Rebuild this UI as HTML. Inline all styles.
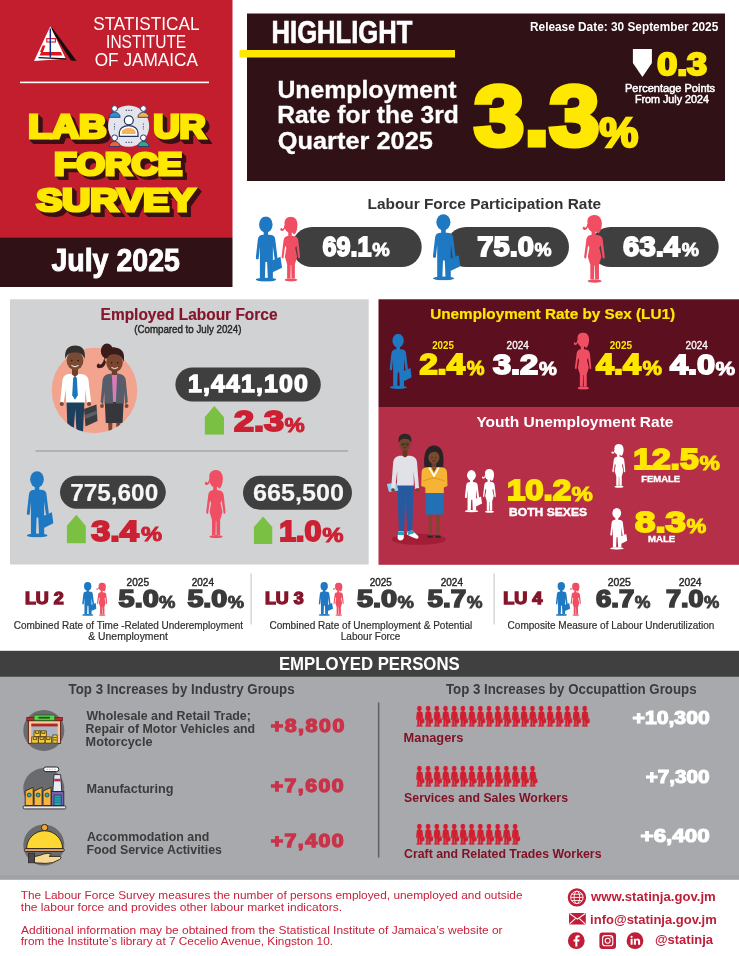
<!DOCTYPE html>
<html lang="en"><head><meta charset="utf-8"><title>Labour Force Survey July 2025</title>
<style>
html,body{margin:0;padding:0;background:#fff}
svg{display:block;font-family:"Liberation Sans",sans-serif}
text{white-space:pre}
</style></head><body>
<svg width="739" height="956" viewBox="0 0 739 956">
<defs>
<symbol id="male" viewBox="0 0 334 790" preserveAspectRatio="none">
<ellipse cx="130" cy="99" rx="84" ry="97"/>
<path d="M103,170 H158 V222 C218,222 243,238 247,278 L274,495 C276,516 266,523 254,520 L240,517 L218,365 V748 H155 L146,552 H125 L118,748 H56 V365 L40,517 L28,520 C16,523 3,516 6,495 L31,278 C36,238 62,222 103,222 Z"/>
<path d="M188,542 L312,490 L332,620 L214,676 Z"/>
<ellipse cx="132" cy="764" rx="128" ry="23"/>
</symbol>
<symbol id="female" viewBox="0 4 255 782" preserveAspectRatio="none">
<ellipse cx="126" cy="112" rx="66" ry="88"/>
<path d="M62,95 C50,30 100,2 140,4 C202,6 226,62 219,122 C215,168 204,200 180,218 L150,190 L118,72 Z"/>
<path d="M74,118 C64,160 42,184 20,174 C-2,164 6,134 30,140 C24,162 54,150 60,104 Z"/>
<path d="M106,185 H150 V232 C197,236 224,248 230,288 L252,482 C254,504 238,510 230,500 L206,352 L192,380 L216,484 L188,575 L188,745 H146 L143,585 H137 L134,745 H92 L92,575 L64,484 L82,380 L68,352 L46,500 C40,510 22,504 24,482 L48,288 C54,248 78,236 106,232 Z"/>
<ellipse cx="140" cy="764" rx="78" ry="19"/>
</symbol>
<symbol id="uparrow" viewBox="0 0 20 28" preserveAspectRatio="none">
<path d="M10,0 L20,11 V28 H0 V11 Z"/>
</symbol>
</defs>
<rect x="0" y="0" width="232.5" height="237.2" fill="#c21e2e"/>
<rect x="0" y="237.2" width="232.5" height="49.8" fill="#2f1116"/>
<rect x="247" y="13.5" width="478" height="167.5" fill="#2f1116"/>
<rect x="239.5" y="50" width="215.5" height="7.5" fill="#ffe800"/>
<rect x="10" y="299.3" width="358.7" height="265.2" fill="#d1d2d4"/>
<rect x="378.5" y="299.3" width="360.5" height="107.7" fill="#5c0f1e"/>
<rect x="378.5" y="407" width="360.5" height="157.8" fill="#b52f49"/>
<rect x="0" y="650.8" width="739" height="26.1" fill="#404040"/>
<rect x="0" y="676.9" width="739" height="202.7" fill="#a8a9ad"/>
<rect x="0" y="875" width="739" height="4.6" fill="#a0a2a5"/>
<path d="M51.6,27 L76.6,60.9 L71,60.4 L52.2,31.5 Z" fill="#1a0a0c"/>
<path d="M50.3,26.2 L65.8,58.8 L34,60.9 Z" fill="#fff"/>
<path d="M41.2,52 H60.8 L62.4,55.6 H39.6 Z" fill="#e3131e"/>
<path d="M42.6,45.5 L40,52 H43 L45.4,45.5 Z" fill="#e3131e"/>
<rect x="46.8" y="38.6" width="8.6" height="3.4" fill="none" stroke="#e3131e" stroke-width="1.1"/>
<path d="M38.5,57.6 L66,58.9" stroke="#1a0a0c" stroke-width="1.3"/>
<path d="M50.3,28.5 V57.5" stroke="#1c2a8c" stroke-width="1.5"/>
<text x="93.2" y="30.3" font-size="17.5" font-weight="400" fill="#fff" textLength="106.3" lengthAdjust="spacingAndGlyphs">STATISTICAL</text>
<text x="106.1" y="48.3" font-size="17.5" font-weight="400" fill="#fff" textLength="80.1" lengthAdjust="spacingAndGlyphs">INSTITUTE</text>
<text x="94.7" y="66.3" font-size="17.5" font-weight="400" fill="#fff" textLength="103.3" lengthAdjust="spacingAndGlyphs">OF JAMAICA</text>
<rect x="20" y="81.6" width="189" height="1.6" fill="#fff"/>
<text x="29.6" y="139.1" font-size="32.27" font-weight="700" fill="#3a1015" textLength="77.9" lengthAdjust="spacingAndGlyphs" stroke="#3a1015" stroke-width="3.8000000000000003" stroke-linejoin="miter" stroke-miterlimit="2.2" paint-order="stroke" stroke-miterlimit="3">LAB</text>
<text x="30.6" y="140.1" font-size="32.27" font-weight="700" fill="#3a1015" textLength="77.9" lengthAdjust="spacingAndGlyphs" stroke="#3a1015" stroke-width="3.8000000000000003" stroke-linejoin="miter" stroke-miterlimit="2.2" paint-order="stroke" stroke-miterlimit="3">LAB</text>
<text x="31.6" y="141.1" font-size="32.27" font-weight="700" fill="#3a1015" textLength="77.9" lengthAdjust="spacingAndGlyphs" stroke="#3a1015" stroke-width="3.8000000000000003" stroke-linejoin="miter" stroke-miterlimit="2.2" paint-order="stroke" stroke-miterlimit="3">LAB</text>
<text x="32.6" y="142.1" font-size="32.27" font-weight="700" fill="#3a1015" textLength="77.9" lengthAdjust="spacingAndGlyphs" stroke="#3a1015" stroke-width="3.8000000000000003" stroke-linejoin="miter" stroke-miterlimit="2.2" paint-order="stroke" stroke-miterlimit="3">LAB</text>
<text x="28.2" y="138.4" font-size="33.14" font-weight="700" fill="#ffe800" textLength="78.5" lengthAdjust="spacingAndGlyphs" stroke="#ffe800" stroke-width="3.2" stroke-linejoin="miter" stroke-miterlimit="2.2" paint-order="stroke">LAB</text>
<text x="154.7" y="139.1" font-size="32.27" font-weight="700" fill="#3a1015" textLength="51.8" lengthAdjust="spacingAndGlyphs" stroke="#3a1015" stroke-width="3.8000000000000003" stroke-linejoin="miter" stroke-miterlimit="2.2" paint-order="stroke" stroke-miterlimit="3">UR</text>
<text x="155.7" y="140.1" font-size="32.27" font-weight="700" fill="#3a1015" textLength="51.8" lengthAdjust="spacingAndGlyphs" stroke="#3a1015" stroke-width="3.8000000000000003" stroke-linejoin="miter" stroke-miterlimit="2.2" paint-order="stroke" stroke-miterlimit="3">UR</text>
<text x="156.7" y="141.1" font-size="32.27" font-weight="700" fill="#3a1015" textLength="51.8" lengthAdjust="spacingAndGlyphs" stroke="#3a1015" stroke-width="3.8000000000000003" stroke-linejoin="miter" stroke-miterlimit="2.2" paint-order="stroke" stroke-miterlimit="3">UR</text>
<text x="157.7" y="142.1" font-size="32.27" font-weight="700" fill="#3a1015" textLength="51.8" lengthAdjust="spacingAndGlyphs" stroke="#3a1015" stroke-width="3.8000000000000003" stroke-linejoin="miter" stroke-miterlimit="2.2" paint-order="stroke" stroke-miterlimit="3">UR</text>
<text x="153.4" y="138.4" font-size="33.14" font-weight="700" fill="#ffe800" textLength="52.4" lengthAdjust="spacingAndGlyphs" stroke="#ffe800" stroke-width="3.2" stroke-linejoin="miter" stroke-miterlimit="2.2" paint-order="stroke">UR</text>
<text x="55.5" y="175.4" font-size="30.09" font-weight="700" fill="#3a1015" textLength="127.5" lengthAdjust="spacingAndGlyphs" stroke="#3a1015" stroke-width="3.8000000000000003" stroke-linejoin="miter" stroke-miterlimit="2.2" paint-order="stroke" stroke-miterlimit="3">FORCE</text>
<text x="56.5" y="176.4" font-size="30.09" font-weight="700" fill="#3a1015" textLength="127.5" lengthAdjust="spacingAndGlyphs" stroke="#3a1015" stroke-width="3.8000000000000003" stroke-linejoin="miter" stroke-miterlimit="2.2" paint-order="stroke" stroke-miterlimit="3">FORCE</text>
<text x="57.5" y="177.4" font-size="30.09" font-weight="700" fill="#3a1015" textLength="127.5" lengthAdjust="spacingAndGlyphs" stroke="#3a1015" stroke-width="3.8000000000000003" stroke-linejoin="miter" stroke-miterlimit="2.2" paint-order="stroke" stroke-miterlimit="3">FORCE</text>
<text x="58.5" y="178.4" font-size="30.09" font-weight="700" fill="#3a1015" textLength="127.5" lengthAdjust="spacingAndGlyphs" stroke="#3a1015" stroke-width="3.8000000000000003" stroke-linejoin="miter" stroke-miterlimit="2.2" paint-order="stroke" stroke-miterlimit="3">FORCE</text>
<text x="54.2" y="174.7" font-size="30.96" font-weight="700" fill="#ffe800" textLength="128.1" lengthAdjust="spacingAndGlyphs" stroke="#ffe800" stroke-width="3.2" stroke-linejoin="miter" stroke-miterlimit="2.2" paint-order="stroke">FORCE</text>
<text x="37.8" y="211.5" font-size="31.4" font-weight="700" fill="#3a1015" textLength="157.9" lengthAdjust="spacingAndGlyphs" stroke="#3a1015" stroke-width="3.8000000000000003" stroke-linejoin="miter" stroke-miterlimit="2.2" paint-order="stroke" stroke-miterlimit="3">SURVEY</text>
<text x="38.8" y="212.5" font-size="31.4" font-weight="700" fill="#3a1015" textLength="157.9" lengthAdjust="spacingAndGlyphs" stroke="#3a1015" stroke-width="3.8000000000000003" stroke-linejoin="miter" stroke-miterlimit="2.2" paint-order="stroke" stroke-miterlimit="3">SURVEY</text>
<text x="39.8" y="213.5" font-size="31.4" font-weight="700" fill="#3a1015" textLength="157.9" lengthAdjust="spacingAndGlyphs" stroke="#3a1015" stroke-width="3.8000000000000003" stroke-linejoin="miter" stroke-miterlimit="2.2" paint-order="stroke" stroke-miterlimit="3">SURVEY</text>
<text x="40.8" y="214.5" font-size="31.4" font-weight="700" fill="#3a1015" textLength="157.9" lengthAdjust="spacingAndGlyphs" stroke="#3a1015" stroke-width="3.8000000000000003" stroke-linejoin="miter" stroke-miterlimit="2.2" paint-order="stroke" stroke-miterlimit="3">SURVEY</text>
<text x="36.5" y="210.8" font-size="32.27" font-weight="700" fill="#ffe800" textLength="158.5" lengthAdjust="spacingAndGlyphs" stroke="#ffe800" stroke-width="3.2" stroke-linejoin="miter" stroke-miterlimit="2.2" paint-order="stroke">SURVEY</text>
<g>
<circle cx="128.6" cy="126.1" r="20.6" fill="#e4e5ec"/>
<path d="M109.1,117.3 a5.52,5.11 0 0 1 11.04,0 Z" fill="#2f8fd0" stroke="#2a3a6a" stroke-width="0.9"/>
<circle cx="114.6" cy="108.5" r="2.9" fill="#fff" stroke="#2a3a6a" stroke-width="1"/>
<path d="M137.9,117.3 a5.52,5.11 0 0 1 11.04,0 Z" fill="#f4b04c" stroke="#2a3a6a" stroke-width="0.9"/>
<circle cx="143.4" cy="108.5" r="2.9" fill="#fff" stroke="#2a3a6a" stroke-width="1"/>
<path d="M109.1,146.5 a5.52,5.11 0 0 1 11.04,0 Z" fill="#e8603c" stroke="#2a3a6a" stroke-width="0.9"/>
<circle cx="114.6" cy="137.8" r="2.9" fill="#fff" stroke="#2a3a6a" stroke-width="1"/>
<path d="M137.9,146.5 a5.52,5.11 0 0 1 11.04,0 Z" fill="#35a58a" stroke="#2a3a6a" stroke-width="0.9"/>
<circle cx="143.4" cy="137.8" r="2.9" fill="#fff" stroke="#2a3a6a" stroke-width="1"/>
<path d="M119.3,136.4 V132.5 a9.34,7.14 0 0 1 18.67,0 V136.4 Z" fill="#fff" stroke="#24335f" stroke-width="1.2"/>
<path d="M121.8,134.1 V132.1 a6.90,4.06 0 0 1 13.80,0 V134.1 Z" fill="#f5b35a"/>
<circle cx="128.8" cy="120.3" r="4.5" fill="#fff" stroke="#24335f" stroke-width="1.2"/>
<path d="M125.6,110.4 h6.6 M125.6,142.4 h6.6 M114.5,123.4 v6.2 M143.4,123.4 v6.2" stroke="#5a6480" stroke-width="1.1" stroke-dasharray="1.4 1.2"/>
</g>
<text x="51.4" y="271.0" font-size="31.59" font-weight="700" fill="#fff" textLength="128.5" lengthAdjust="spacingAndGlyphs" stroke="#fff" stroke-width="1.0" stroke-linejoin="miter" stroke-miterlimit="2.2" paint-order="stroke">July 2025</text>
<text x="271.6" y="42.9" font-size="31.07" font-weight="700" fill="#fff" textLength="140.7" lengthAdjust="spacingAndGlyphs" stroke="#fff" stroke-width="0.7" stroke-linejoin="miter" stroke-miterlimit="2.2" paint-order="stroke">HIGHLIGHT</text>
<text x="530.0" y="31.0" font-size="13.6" font-weight="700" fill="#fff" textLength="188.3" lengthAdjust="spacingAndGlyphs">Release Date: 30 September 2025</text>
<text x="277.4" y="98.0" font-size="23.5" font-weight="700" fill="#fff" textLength="179.0" lengthAdjust="spacingAndGlyphs" stroke="#fff" stroke-width="0.3" stroke-linejoin="miter" stroke-miterlimit="2.2" paint-order="stroke">Unemployment</text>
<text x="277.2" y="122.7" font-size="23.5" font-weight="700" fill="#fff" textLength="181.6" lengthAdjust="spacingAndGlyphs" stroke="#fff" stroke-width="0.3" stroke-linejoin="miter" stroke-miterlimit="2.2" paint-order="stroke">Rate for the 3rd</text>
<text x="277.8" y="148.5" font-size="23.5" font-weight="700" fill="#fff" textLength="155.1" lengthAdjust="spacingAndGlyphs" stroke="#fff" stroke-width="0.3" stroke-linejoin="miter" stroke-miterlimit="2.2" paint-order="stroke">Quarter 2025</text>
<text x="473.9" y="144.9" font-size="85.56" font-weight="700" fill="#ffe800" textLength="125.6" lengthAdjust="spacingAndGlyphs" stroke="#ffe800" stroke-width="5" stroke-linejoin="miter" stroke-miterlimit="2.2" paint-order="stroke">3.3</text>
<text x="599.3" y="146.9" font-size="42.21" font-weight="700" fill="#ffe800" textLength="39.1" lengthAdjust="spacingAndGlyphs" stroke="#ffe800" stroke-width="2.4" stroke-linejoin="miter" stroke-miterlimit="2.2" paint-order="stroke">%</text>
<path d="M632.9,48.9 H651.9 V63 L642.4,76.9 L632.9,63 Z" fill="#fff"/>
<text x="657.2" y="74.9" font-size="31.71" font-weight="700" fill="#ffe800" textLength="49.9" lengthAdjust="spacingAndGlyphs" stroke="#ffe800" stroke-width="2.4" stroke-linejoin="miter" stroke-miterlimit="2.2" paint-order="stroke">0.3</text>
<text x="625.0" y="91.8" font-size="10.6" font-weight="400" fill="#fff" textLength="90.1" lengthAdjust="spacingAndGlyphs" stroke="#fff" stroke-width="0.5" stroke-linejoin="miter" stroke-miterlimit="2.2" paint-order="stroke">Percentage Points</text>
<text x="634.9" y="102.5" font-size="10.6" font-weight="400" fill="#fff" textLength="74.0" lengthAdjust="spacingAndGlyphs" stroke="#fff" stroke-width="0.5" stroke-linejoin="miter" stroke-miterlimit="2.2" paint-order="stroke">From July 2024</text>
<text x="367.5" y="208.7" font-size="15.2" font-weight="700" fill="#333" textLength="233.6" lengthAdjust="spacingAndGlyphs">Labour Force Participation Rate</text>
<rect x="292" y="227" width="129.7" height="40" rx="20" fill="#3f3f3f"/>
<rect x="446" y="227" width="123" height="40" rx="20" fill="#3f3f3f"/>
<rect x="590.5" y="227" width="128.2" height="40" rx="20" fill="#3f3f3f"/>
<use href="#male" x="255.4" y="216.3" width="26.8" height="65.4" fill="#1e78c2"/>
<use href="#female" x="279.7" y="216.7" width="20.6" height="65.1" fill="#f04e63"/>
<use href="#male" x="432.5" y="214.0" width="28.0" height="66.5" fill="#1e78c2"/>
<use href="#female" x="582.0" y="215.0" width="23.0" height="68.0" fill="#f04e63"/>
<text x="322.5" y="255.6" font-size="27.82" font-weight="700" fill="#fff" textLength="48.9" lengthAdjust="spacingAndGlyphs" stroke="#fff" stroke-width="1.8" stroke-linejoin="miter" stroke-miterlimit="2.2" paint-order="stroke">69.1</text>
<text x="372.3" y="256.3" font-size="18.36" font-weight="700" fill="#fff" textLength="17.5" lengthAdjust="spacingAndGlyphs" stroke="#fff" stroke-width="0.81" stroke-linejoin="miter" stroke-miterlimit="2.2" paint-order="stroke">%</text>
<text x="477.3" y="255.6" font-size="27.82" font-weight="700" fill="#fff" textLength="56.6" lengthAdjust="spacingAndGlyphs" stroke="#fff" stroke-width="1.8" stroke-linejoin="miter" stroke-miterlimit="2.2" paint-order="stroke">75.0</text>
<text x="534.4" y="256.3" font-size="18.36" font-weight="700" fill="#fff" textLength="17.1" lengthAdjust="spacingAndGlyphs" stroke="#fff" stroke-width="0.81" stroke-linejoin="miter" stroke-miterlimit="2.2" paint-order="stroke">%</text>
<text x="623.1" y="255.6" font-size="27.77" font-weight="700" fill="#fff" textLength="57.0" lengthAdjust="spacingAndGlyphs" stroke="#fff" stroke-width="1.8" stroke-linejoin="miter" stroke-miterlimit="2.2" paint-order="stroke">63.4</text>
<text x="681.7" y="256.3" font-size="18.33" font-weight="700" fill="#fff" textLength="17.2" lengthAdjust="spacingAndGlyphs" stroke="#fff" stroke-width="0.81" stroke-linejoin="miter" stroke-miterlimit="2.2" paint-order="stroke">%</text>
<text x="100.6" y="319.8" font-size="16.8" font-weight="700" fill="#84152a" textLength="176.9" lengthAdjust="spacingAndGlyphs" stroke="#84152a" stroke-width="0.2" stroke-linejoin="miter" stroke-miterlimit="2.2" paint-order="stroke">Employed Labour Force</text>
<text x="134.2" y="333.3" font-size="10.6" font-weight="400" fill="#2a2a2a" textLength="107.2" lengthAdjust="spacingAndGlyphs" stroke="#2a2a2a" stroke-width="0.45" stroke-linejoin="miter" stroke-miterlimit="2.2" paint-order="stroke">(Compared to July 2024)</text>
<clipPath id="cc"><path d="M40,330 H150 V390.5 H137.3 A42.8,42.8 0 0 1 51.7,390.5 H40 Z"/></clipPath>
<circle cx="94.5" cy="390.5" r="42.8" fill="#f2a48f"/>
<g clip-path="url(#cc)">
<path d="M66.5,400 H84.5 L83,432 H76.5 L75.3,409 L73.5,432 H67.5 Z" fill="#1d3f5e"/>
<path d="M84,409 L96.5,404.5 L97.5,421 L85.5,426.5 Z" fill="#3a3d42"/>
<path d="M85,415 L97,410.5 L97.3,414 L85.2,419 Z" fill="#5c6066"/>
<path d="M60.2,401.5 L62.5,380 Q63.5,374.5 69,374 H81 Q87.5,374.5 88.5,380 L91,401.5 L87,403 L85,389 L85,402.5 H66 L66,389 L63.5,403 Z" fill="#fff"/>
<circle cx="61.8" cy="404" r="2.1" fill="#7c4a32"/><circle cx="89" cy="404" r="2.1" fill="#7c4a32"/>
<path d="M72,367 h6 v7.5 l-3,2.5 l-3,-2.5 Z" fill="#6e4029"/>
<path d="M75,376.2 l1.8,1.6 l1,17.5 l-2.8,4.5 l-2.8,-4.5 l1,-17.5 Z" fill="#1a76bd"/>
<ellipse cx="75" cy="360.5" rx="8.4" ry="9.6" fill="#7c4a32"/>
<path d="M65.3,359 C64,349 69,345.5 75,345.5 C82,345.5 86,349.5 84.7,359 C83,354 80,352.5 75,352.5 C70,352.5 67,354 65.3,359 Z" fill="#33312f"/>
<circle cx="71.8" cy="360.6" r="0.8" fill="#1c1614"/><circle cx="78.2" cy="360.6" r="0.8" fill="#1c1614"/>
<path d="M71.5,365.5 q3.5,2.6 7,0" stroke="#fff" stroke-width="1" fill="none"/>
<path d="M108,420 h4.6 l-0.6,12 h-3.4 Z M116,420 h4.6 l-0.6,12 h-3.4 Z" fill="#7a4630"/>
<path d="M104.8,402 H123.6 L122.6,423 H105.8 Z" fill="#36363c"/>
<ellipse cx="107" cy="351" rx="6.2" ry="7.5" fill="#3a1d1a"/>
<path d="M100,368 C96,369 96,364 98.5,363.5 C100,366 103,364 104,359 L106,362 C105,366 103,368 100,368 Z" fill="#3a1d1a"/>
<ellipse cx="114.5" cy="362.5" rx="8.3" ry="9.5" fill="#7a4630"/>
<path d="M104.5,361 C103,350 109,346.5 115,347.5 C122,348 125.5,353 123.6,362 C122,356 118,353.5 112,354.5 C108,355 106,357 104.5,361 Z" fill="#3a1d1a"/>
<circle cx="111.6" cy="362.8" r="0.8" fill="#1c1614"/><circle cx="117.6" cy="362.8" r="0.8" fill="#1c1614"/>
<path d="M111.5,367.5 q3.2,2.3 6.4,0" stroke="#fff" stroke-width="0.9" fill="none"/>
<path d="M111.8,370 h5.4 v6 h-5.4 Z" fill="#6e3e2a"/>
<path d="M110.5,375 h8 l-1,27 h-6 Z" fill="#d77bb9"/>
<path d="M100.6,402 L102.6,380 Q103.5,375 108.5,374 L111.8,373.5 L113.2,403.5 H104.5 L104.3,392 L103.2,404.5 Z" fill="#585d6a"/>
<path d="M127.8,402 L125.8,380 Q125,375 120,374 L117.2,373.5 L115.8,403.5 H124 L124.2,392 L125.2,404.5 Z" fill="#585d6a"/>
<circle cx="102" cy="406" r="1.9" fill="#7a4630"/><circle cx="126.6" cy="406" r="1.9" fill="#7a4630"/>
</g>
<rect x="175.4" y="367.5" width="145.4" height="34" rx="17" fill="#3f3f3f"/>
<text transform="translate(188.10,391.71) scale(1.03,1)" font-size="24.15" font-weight="700" fill="#fff" letter-spacing="1.103" stroke="#fff" stroke-width="1.3" stroke-linejoin="miter" stroke-miterlimit="2.2" paint-order="stroke">1,441,100</text>
<use href="#uparrow" x="204.6" y="406.0" width="19.4" height="28.7" fill="#7ac143"/>
<text x="234.1" y="431.0" font-size="29.74" font-weight="700" fill="#cc2033" textLength="50.0" lengthAdjust="spacingAndGlyphs" stroke="#cc2033" stroke-width="2.0" stroke-linejoin="miter" stroke-miterlimit="2.2" paint-order="stroke">2.3</text>
<text x="284.6" y="431.7" font-size="20.22" font-weight="700" fill="#cc2033" textLength="20.2" lengthAdjust="spacingAndGlyphs" stroke="#cc2033" stroke-width="0.9" stroke-linejoin="miter" stroke-miterlimit="2.2" paint-order="stroke">%</text>
<rect x="35.5" y="450.2" width="312.5" height="1.6" fill="#a9abae"/>
<use href="#male" x="26.4" y="471.0" width="27.2" height="66.6" fill="#1e78c2"/>
<rect x="60" y="475.7" width="105.8" height="33" rx="16.5" fill="#3f3f3f"/>
<text x="70.2" y="500.6" font-size="23.94" font-weight="700" fill="#f6f6f6" textLength="88.0" lengthAdjust="spacingAndGlyphs" stroke="#f6f6f6" stroke-width="0.15" stroke-linejoin="miter" stroke-miterlimit="2.2" paint-order="stroke">775,600</text>
<use href="#uparrow" x="66.7" y="514.7" width="19.2" height="28.7" fill="#7ac143"/>
<text x="91.3" y="540.7" font-size="29.6" font-weight="700" fill="#cc2033" textLength="47.5" lengthAdjust="spacingAndGlyphs" stroke="#cc2033" stroke-width="2.0" stroke-linejoin="miter" stroke-miterlimit="2.2" paint-order="stroke">3.4</text>
<text x="140.9" y="541.4" font-size="20.13" font-weight="700" fill="#cc2033" textLength="21.1" lengthAdjust="spacingAndGlyphs" stroke="#cc2033" stroke-width="0.9" stroke-linejoin="miter" stroke-miterlimit="2.2" paint-order="stroke">%</text>
<use href="#female" x="204.2" y="470.0" width="21.6" height="68.5" fill="#f04e63"/>
<rect x="243" y="475.7" width="109" height="34" rx="17" fill="#3f3f3f"/>
<text x="252.9" y="500.6" font-size="23.94" font-weight="700" fill="#f6f6f6" textLength="91.0" lengthAdjust="spacingAndGlyphs" stroke="#f6f6f6" stroke-width="0.15" stroke-linejoin="miter" stroke-miterlimit="2.2" paint-order="stroke">665,500</text>
<use href="#uparrow" x="253.7" y="516.5" width="18.8" height="27.5" fill="#7ac143"/>
<text x="279.2" y="540.8" font-size="29.52" font-weight="700" fill="#cc2033" textLength="42.3" lengthAdjust="spacingAndGlyphs" stroke="#cc2033" stroke-width="2.0" stroke-linejoin="miter" stroke-miterlimit="2.2" paint-order="stroke">1.0</text>
<text x="322.2" y="541.5" font-size="20.07" font-weight="700" fill="#cc2033" textLength="21.3" lengthAdjust="spacingAndGlyphs" stroke="#cc2033" stroke-width="0.9" stroke-linejoin="miter" stroke-miterlimit="2.2" paint-order="stroke">%</text>
<text x="430.2" y="319.0" font-size="15.2" font-weight="700" fill="#ffe800" textLength="244.9" lengthAdjust="spacingAndGlyphs" stroke="#ffe800" stroke-width="0.2" stroke-linejoin="miter" stroke-miterlimit="2.2" paint-order="stroke">Unemployment Rate by Sex (LU1)</text>
<use href="#male" x="389.3" y="333.7" width="22.6" height="55.5" fill="#1e78c2"/>
<use href="#female" x="573.2" y="332.4" width="18.4" height="57.4" fill="#f04e63"/>
<text x="432.2" y="349.0" font-size="10" font-weight="700" fill="#ffe800" textLength="21.7" lengthAdjust="spacingAndGlyphs">2025</text>
<text x="506.6" y="349.0" font-size="10" font-weight="400" fill="#fff" textLength="22.2" lengthAdjust="spacingAndGlyphs" stroke="#fff" stroke-width="0.3" stroke-linejoin="miter" stroke-miterlimit="2.2" paint-order="stroke">2024</text>
<text x="609.7" y="349.0" font-size="10" font-weight="700" fill="#ffe800" textLength="22.4" lengthAdjust="spacingAndGlyphs">2025</text>
<text x="685.6" y="349.0" font-size="10" font-weight="400" fill="#fff" textLength="22.2" lengthAdjust="spacingAndGlyphs" stroke="#fff" stroke-width="0.3" stroke-linejoin="miter" stroke-miterlimit="2.2" paint-order="stroke">2024</text>
<text x="419.4" y="374.3" font-size="28.64" font-weight="700" fill="#ffe800" textLength="45.5" lengthAdjust="spacingAndGlyphs" stroke="#ffe800" stroke-width="1.9000000000000001" stroke-linejoin="miter" stroke-miterlimit="2.2" paint-order="stroke">2.4</text>
<text x="466.7" y="374.7" font-size="19.48" font-weight="700" fill="#ffe800" textLength="17.8" lengthAdjust="spacingAndGlyphs" stroke="#ffe800" stroke-width="0.8550000000000001" stroke-linejoin="miter" stroke-miterlimit="2.2" paint-order="stroke">%</text>
<text x="492.9" y="374.0" font-size="28.19" font-weight="700" fill="#fff" textLength="45.3" lengthAdjust="spacingAndGlyphs" stroke="#fff" stroke-width="1.9000000000000001" stroke-linejoin="miter" stroke-miterlimit="2.2" paint-order="stroke">3.2</text>
<text x="539.1" y="374.7" font-size="19.17" font-weight="700" fill="#fff" textLength="17.9" lengthAdjust="spacingAndGlyphs" stroke="#fff" stroke-width="0.8550000000000001" stroke-linejoin="miter" stroke-miterlimit="2.2" paint-order="stroke">%</text>
<text x="596.1" y="374.3" font-size="29.07" font-weight="700" fill="#ffe800" textLength="44.7" lengthAdjust="spacingAndGlyphs" stroke="#ffe800" stroke-width="1.9000000000000001" stroke-linejoin="miter" stroke-miterlimit="2.2" paint-order="stroke">4.4</text>
<text x="642.5" y="374.7" font-size="19.77" font-weight="700" fill="#ffe800" textLength="19.5" lengthAdjust="spacingAndGlyphs" stroke="#ffe800" stroke-width="0.8550000000000001" stroke-linejoin="miter" stroke-miterlimit="2.2" paint-order="stroke">%</text>
<text x="670.0" y="374.1" font-size="28.25" font-weight="700" fill="#fff" textLength="45.1" lengthAdjust="spacingAndGlyphs" stroke="#fff" stroke-width="1.9000000000000001" stroke-linejoin="miter" stroke-miterlimit="2.2" paint-order="stroke">4.0</text>
<text x="715.5" y="374.7" font-size="19.21" font-weight="700" fill="#fff" textLength="19.6" lengthAdjust="spacingAndGlyphs" stroke="#fff" stroke-width="0.8550000000000001" stroke-linejoin="miter" stroke-miterlimit="2.2" paint-order="stroke">%</text>
<text x="476.4" y="427.0" font-size="15.2" font-weight="700" fill="#fff" textLength="197.1" lengthAdjust="spacingAndGlyphs">Youth Unemployment Rate</text>
<ellipse cx="418.8" cy="539.3" rx="27.3" ry="5.5" fill="#a21d36"/>
<path d="M397.2,484 H413.6 L412.2,533 H407.2 L405.6,494 L404,533 H399 Z" fill="#27599f"/>
<path d="M398.2,531.5 h5.6 v5.5 q0,3 -3,3.4 q-3.4,0 -3.2,-3.4 Z" fill="#fff"/><path d="M398,532 h6 v3 h-6 Z" fill="#27a3c7"/>
<path d="M407,531.5 l5.2,-1 l6,5.6 q1,2.6 -1.6,2.6 q-4.4,-1 -9.6,-4.2 Z" fill="#fff"/><path d="M407,531.5 l5.2,-1 l2.6,2.6 l-6.5,2 Z" fill="#27a3c7"/>
<path d="M386.8,484 l9.4,-1.4 l2.2,8 l-9.4,1.5 Z" fill="#8ed0ee"/>
<path d="M391.2,488 L393.2,462 Q394,456.5 399.5,455.8 H410.5 Q416.2,456.5 417,462 L419,488 L415.2,489 L413.6,471 L413.8,485.5 H397 L397.2,471 L395,489 Z" fill="#e1e2e8"/>
<circle cx="393" cy="490" r="1.8" fill="#73452f"/><circle cx="417.2" cy="490" r="1.8" fill="#73452f"/>
<path d="M402.6,449.5 h4.8 v6.5 l-2.4,1.6 l-2.4,-1.6 Z" fill="#66391f"/>
<ellipse cx="405" cy="443.8" rx="5.6" ry="7" fill="#73452f"/>
<path d="M398.8,443 C397.6,436 401,433.8 405,433.8 C409.6,433.8 412.2,436.5 411.2,443 C410,439.6 408,438.8 405,438.8 C401.6,438.8 400,439.8 398.8,443 Z" fill="#2c2624"/>
<circle cx="403" cy="444.2" r="0.55" fill="#1c1614"/><circle cx="407" cy="444.2" r="0.55" fill="#1c1614"/>
<path d="M401.4,444.2 a1.6,1.4 0 1 0 3.2,0 a1.6,1.4 0 1 0 -3.2,0 M405.4,444.2 a1.6,1.4 0 1 0 3.2,0 a1.6,1.4 0 1 0 -3.2,0" fill="none" stroke="#2c2624" stroke-width="0.45"/>
<path d="M403.4,447.4 q1.6,1 3.2,0" stroke="#3a1d12" stroke-width="0.6" fill="none"/>
<path d="M428.6,512 h3.6 l-0.4,24 h-2.8 Z M436.2,512 h3.6 l-0.4,24 h-2.8 Z" fill="#7a4a30"/>
<path d="M427.6,535.5 h5.2 v2.2 h-5.2 Z M435.4,535.5 h5.2 v2.2 h-5.2 Z" fill="#2a2628"/>
<path d="M425.4,492 H443.8 L443.4,514.6 H425.8 Z" fill="#2371b5"/>
<path d="M424.6,468.5 C422.5,452 427.5,445.4 434,445.4 C441,445.4 445,452 443,468.5 Z" fill="#2a2224"/>
<path d="M431.6,462 h4.6 v7 h-4.6 Z" fill="#6e3e28"/>
<ellipse cx="433.9" cy="457.2" rx="5.5" ry="6.8" fill="#7a4a30"/>
<path d="M428,456.5 C427.5,450 431,448.2 434,448.2 C438,448.2 440.6,450.4 439.8,456.5 C438.4,452.4 436,451.4 433,452 C430.4,452.4 429,453.8 428,456.5 Z" fill="#2a2224"/>
<circle cx="432" cy="457.6" r="0.55" fill="#1c1614"/><circle cx="435.8" cy="457.6" r="0.55" fill="#1c1614"/>
<path d="M432.2,460.6 q1.7,1.2 3.4,0" stroke="#3a1d12" stroke-width="0.6" fill="none"/>
<path d="M421.2,486 L421.6,472 Q422,467.6 426.4,467.2 H441.8 Q446.4,467.6 447,472 L447.5,486 L443.8,487.5 V493 H425.4 V487.5 Z" fill="#f6b436"/>
<path d="M430,467.2 l4,7 l4,-7 l1.6,0.6 l-5.6,10 l-5.6,-10 Z" fill="#fff"/>
<path d="M431.4,467.2 l2.6,5 l2.6,-5 Z" fill="#7a4a30"/>
<path d="M423,481 l11,-3.4 l11,3.4" stroke="#e29c22" stroke-width="1.3" fill="none"/>
<use href="#male" x="464.6" y="470.0" width="17.6" height="42.6" fill="#fff"/>
<use href="#female" x="481.6" y="469.0" width="14.4" height="44.0" fill="#fff"/>
<text x="506.9" y="500.2" font-size="29.66" font-weight="700" fill="#ffe800" textLength="64.2" lengthAdjust="spacingAndGlyphs" stroke="#ffe800" stroke-width="2.0" stroke-linejoin="miter" stroke-miterlimit="2.2" paint-order="stroke">10.2</text>
<text x="571.6" y="500.9" font-size="19.87" font-weight="700" fill="#ffe800" textLength="21.3" lengthAdjust="spacingAndGlyphs" stroke="#ffe800" stroke-width="0.9" stroke-linejoin="miter" stroke-miterlimit="2.2" paint-order="stroke">%</text>
<text x="509.0" y="516.2" font-size="10.6" font-weight="700" fill="#fff" textLength="78.1" lengthAdjust="spacingAndGlyphs" stroke="#fff" stroke-width="0.4" stroke-linejoin="miter" stroke-miterlimit="2.2" paint-order="stroke">BOTH SEXES</text>
<use href="#female" x="611.0" y="444.0" width="14.6" height="44.0" fill="#fff"/>
<text x="633.3" y="469.1" font-size="29.38" font-weight="700" fill="#ffe800" textLength="65.3" lengthAdjust="spacingAndGlyphs" stroke="#ffe800" stroke-width="2.0" stroke-linejoin="miter" stroke-miterlimit="2.2" paint-order="stroke">12.5</text>
<text x="699.6" y="469.8" font-size="19.68" font-weight="700" fill="#ffe800" textLength="20.4" lengthAdjust="spacingAndGlyphs" stroke="#ffe800" stroke-width="0.9" stroke-linejoin="miter" stroke-miterlimit="2.2" paint-order="stroke">%</text>
<text x="641.2" y="482.0" font-size="9.4" font-weight="700" fill="#fff" textLength="39.0" lengthAdjust="spacingAndGlyphs" stroke="#fff" stroke-width="0.4" stroke-linejoin="miter" stroke-miterlimit="2.2" paint-order="stroke">FEMALE</text>
<use href="#male" x="610.0" y="508.0" width="17.4" height="41.8" fill="#fff"/>
<text x="635.1" y="531.9" font-size="29.32" font-weight="700" fill="#ffe800" textLength="50.8" lengthAdjust="spacingAndGlyphs" stroke="#ffe800" stroke-width="2.0" stroke-linejoin="miter" stroke-miterlimit="2.2" paint-order="stroke">8.3</text>
<text x="686.4" y="532.6" font-size="19.64" font-weight="700" fill="#ffe800" textLength="19.8" lengthAdjust="spacingAndGlyphs" stroke="#ffe800" stroke-width="0.9" stroke-linejoin="miter" stroke-miterlimit="2.2" paint-order="stroke">%</text>
<text x="648.1" y="542.0" font-size="9.4" font-weight="700" fill="#fff" textLength="27.1" lengthAdjust="spacingAndGlyphs" stroke="#fff" stroke-width="0.4" stroke-linejoin="miter" stroke-miterlimit="2.2" paint-order="stroke">MALE</text>
<text x="24.9" y="604.3" font-size="15.91" font-weight="700" fill="#84152a" textLength="38.8" lengthAdjust="spacingAndGlyphs" stroke="#84152a" stroke-width="1.3" stroke-linejoin="miter" stroke-miterlimit="2.2" paint-order="stroke">LU 2</text>
<use href="#male" x="82.0" y="582.0" width="14.6" height="34.0" fill="#1e78c2"/>
<use href="#female" x="96.0" y="582.4" width="11.4" height="33.6" fill="#f04e63"/>
<text x="126.6" y="585.9" font-size="10.2" font-weight="400" fill="#2b2b2b" textLength="22.4" lengthAdjust="spacingAndGlyphs" stroke="#2b2b2b" stroke-width="0.45" stroke-linejoin="miter" stroke-miterlimit="2.2" paint-order="stroke">2025</text>
<text x="191.7" y="585.9" font-size="10.2" font-weight="400" fill="#2b2b2b" textLength="22.3" lengthAdjust="spacingAndGlyphs" stroke="#2b2b2b" stroke-width="0.45" stroke-linejoin="miter" stroke-miterlimit="2.2" paint-order="stroke">2024</text>
<text x="118.6" y="606.9" font-size="24.43" font-weight="700" fill="#3a3a3a" textLength="40.1" lengthAdjust="spacingAndGlyphs" stroke="#3a3a3a" stroke-width="1.7" stroke-linejoin="miter" stroke-miterlimit="2.2" paint-order="stroke">5.0</text>
<text x="159.1" y="607.5" font-size="15.64" font-weight="700" fill="#3a3a3a" textLength="16.4" lengthAdjust="spacingAndGlyphs" stroke="#3a3a3a" stroke-width="0.765" stroke-linejoin="miter" stroke-miterlimit="2.2" paint-order="stroke">%</text>
<text x="187.4" y="606.9" font-size="24.43" font-weight="700" fill="#3a3a3a" textLength="39.9" lengthAdjust="spacingAndGlyphs" stroke="#3a3a3a" stroke-width="1.7" stroke-linejoin="miter" stroke-miterlimit="2.2" paint-order="stroke">5.0</text>
<text x="227.8" y="607.5" font-size="15.64" font-weight="700" fill="#3a3a3a" textLength="16.3" lengthAdjust="spacingAndGlyphs" stroke="#3a3a3a" stroke-width="0.765" stroke-linejoin="miter" stroke-miterlimit="2.2" paint-order="stroke">%</text>
<text x="13.8" y="629.4" font-size="10.8" font-weight="400" fill="#2e2e2e" textLength="229.2" lengthAdjust="spacingAndGlyphs" stroke="#2e2e2e" stroke-width="0.2" stroke-linejoin="miter" stroke-miterlimit="2.2" paint-order="stroke">Combined Rate of Time -Related Underemployment</text>
<text x="88.3" y="639.6" font-size="10.8" font-weight="400" fill="#2e2e2e" textLength="79.6" lengthAdjust="spacingAndGlyphs" stroke="#2e2e2e" stroke-width="0.2" stroke-linejoin="miter" stroke-miterlimit="2.2" paint-order="stroke">&amp; Unemployment</text>
<text x="264.9" y="604.3" font-size="15.91" font-weight="700" fill="#84152a" textLength="38.7" lengthAdjust="spacingAndGlyphs" stroke="#84152a" stroke-width="1.3" stroke-linejoin="miter" stroke-miterlimit="2.2" paint-order="stroke">LU 3</text>
<use href="#male" x="318.5" y="582.0" width="14.6" height="34.0" fill="#1e78c2"/>
<use href="#female" x="332.5" y="582.4" width="11.4" height="33.6" fill="#f04e63"/>
<text x="369.7" y="585.9" font-size="10.2" font-weight="400" fill="#2b2b2b" textLength="22.0" lengthAdjust="spacingAndGlyphs" stroke="#2b2b2b" stroke-width="0.45" stroke-linejoin="miter" stroke-miterlimit="2.2" paint-order="stroke">2025</text>
<text x="440.7" y="585.9" font-size="10.2" font-weight="400" fill="#2b2b2b" textLength="22.3" lengthAdjust="spacingAndGlyphs" stroke="#2b2b2b" stroke-width="0.45" stroke-linejoin="miter" stroke-miterlimit="2.2" paint-order="stroke">2024</text>
<text x="357.0" y="606.9" font-size="24.43" font-weight="700" fill="#3a3a3a" textLength="40.2" lengthAdjust="spacingAndGlyphs" stroke="#3a3a3a" stroke-width="1.7" stroke-linejoin="miter" stroke-miterlimit="2.2" paint-order="stroke">5.0</text>
<text x="397.6" y="607.5" font-size="15.64" font-weight="700" fill="#3a3a3a" textLength="16.4" lengthAdjust="spacingAndGlyphs" stroke="#3a3a3a" stroke-width="0.765" stroke-linejoin="miter" stroke-miterlimit="2.2" paint-order="stroke">%</text>
<text x="427.6" y="606.9" font-size="24.79" font-weight="700" fill="#3a3a3a" textLength="38.6" lengthAdjust="spacingAndGlyphs" stroke="#3a3a3a" stroke-width="1.7" stroke-linejoin="miter" stroke-miterlimit="2.2" paint-order="stroke">5.7</text>
<text x="466.7" y="607.5" font-size="15.87" font-weight="700" fill="#3a3a3a" textLength="15.8" lengthAdjust="spacingAndGlyphs" stroke="#3a3a3a" stroke-width="0.765" stroke-linejoin="miter" stroke-miterlimit="2.2" paint-order="stroke">%</text>
<text x="269.4" y="629.4" font-size="10.8" font-weight="400" fill="#2e2e2e" textLength="202.9" lengthAdjust="spacingAndGlyphs" stroke="#2e2e2e" stroke-width="0.2" stroke-linejoin="miter" stroke-miterlimit="2.2" paint-order="stroke">Combined Rate of Unemployment &amp; Potential</text>
<text x="340.8" y="639.6" font-size="10.8" font-weight="400" fill="#2e2e2e" textLength="59.6" lengthAdjust="spacingAndGlyphs" stroke="#2e2e2e" stroke-width="0.2" stroke-linejoin="miter" stroke-miterlimit="2.2" paint-order="stroke">Labour Force</text>
<text x="503.2" y="604.3" font-size="15.91" font-weight="700" fill="#84152a" textLength="39.2" lengthAdjust="spacingAndGlyphs" stroke="#84152a" stroke-width="1.3" stroke-linejoin="miter" stroke-miterlimit="2.2" paint-order="stroke">LU 4</text>
<use href="#male" x="555.6" y="582.0" width="14.6" height="34.0" fill="#1e78c2"/>
<use href="#female" x="569.6" y="582.4" width="11.4" height="33.6" fill="#f04e63"/>
<text x="607.7" y="585.9" font-size="10.2" font-weight="400" fill="#2b2b2b" textLength="23.2" lengthAdjust="spacingAndGlyphs" stroke="#2b2b2b" stroke-width="0.45" stroke-linejoin="miter" stroke-miterlimit="2.2" paint-order="stroke">2025</text>
<text x="678.7" y="585.9" font-size="10.2" font-weight="400" fill="#2b2b2b" textLength="22.9" lengthAdjust="spacingAndGlyphs" stroke="#2b2b2b" stroke-width="0.45" stroke-linejoin="miter" stroke-miterlimit="2.2" paint-order="stroke">2024</text>
<text x="596.1" y="606.9" font-size="24.43" font-weight="700" fill="#3a3a3a" textLength="38.2" lengthAdjust="spacingAndGlyphs" stroke="#3a3a3a" stroke-width="1.7" stroke-linejoin="miter" stroke-miterlimit="2.2" paint-order="stroke">6.7</text>
<text x="634.8" y="607.5" font-size="15.64" font-weight="700" fill="#3a3a3a" textLength="15.7" lengthAdjust="spacingAndGlyphs" stroke="#3a3a3a" stroke-width="0.765" stroke-linejoin="miter" stroke-miterlimit="2.2" paint-order="stroke">%</text>
<text x="666.1" y="606.9" font-size="24.43" font-weight="700" fill="#3a3a3a" textLength="37.5" lengthAdjust="spacingAndGlyphs" stroke="#3a3a3a" stroke-width="1.7" stroke-linejoin="miter" stroke-miterlimit="2.2" paint-order="stroke">7.0</text>
<text x="704.1" y="607.5" font-size="15.64" font-weight="700" fill="#3a3a3a" textLength="15.3" lengthAdjust="spacingAndGlyphs" stroke="#3a3a3a" stroke-width="0.765" stroke-linejoin="miter" stroke-miterlimit="2.2" paint-order="stroke">%</text>
<text x="507.6" y="629.2" font-size="10.8" font-weight="400" fill="#2e2e2e" textLength="206.8" lengthAdjust="spacingAndGlyphs" stroke="#2e2e2e" stroke-width="0.2" stroke-linejoin="miter" stroke-miterlimit="2.2" paint-order="stroke">Composite Measure of Labour Underutilization</text>
<rect x="250.6" y="573.5" width="1" height="51" fill="#c2c2c2"/>
<rect x="493.6" y="573.5" width="1" height="51" fill="#c2c2c2"/>
<text x="278.9" y="669.8" font-size="17.6" font-weight="700" fill="#fff" textLength="180.8" lengthAdjust="spacingAndGlyphs">EMPLOYED PERSONS</text>
<text x="68.6" y="694.0" font-size="13.8" font-weight="700" fill="#3b3b3b" textLength="226.0" lengthAdjust="spacingAndGlyphs">Top 3 Increases by Industry Groups</text>
<text x="445.9" y="694.3" font-size="13.8" font-weight="700" fill="#3b3b3b" textLength="250.7" lengthAdjust="spacingAndGlyphs">Top 3 Increases by Occupattion Groups</text>
<rect x="377.9" y="702.5" width="1.5" height="155" fill="#5f6062"/>
<circle cx="43.8" cy="730.4" r="20.5" fill="#6a6b6e"/>
<rect x="28.4" y="720.6" width="32.2" height="22.8" fill="#f6c9a0" stroke="#5a1a14" stroke-width="0.9"/>
<rect x="31.3" y="724" width="26.4" height="19.4" fill="#aab6c8"/>
<rect x="31.3" y="723.6" width="26.4" height="2.8" fill="#b3261e"/>
<rect x="26.8" y="717.4" width="35.6" height="3.4" fill="#c0282a" stroke="#5a1a14" stroke-width="0.7"/>
<rect x="34" y="715" width="20.8" height="5.4" rx="1" fill="#5fd04a" stroke="#1d5a1a" stroke-width="0.8"/>
<rect x="38.5" y="716.8" width="11.5" height="1.8" fill="#1d5a1a"/>
<path d="M31.7,736.9 h6.6 v6.2 h-6.6 Z M38.4,736.9 h6.6 v6.2 h-6.6 Z M45.1,736.9 h6.4 v6.2 h-6.4 Z M34.1,730.8 h6.1 v5.8 h-6.1 Z M40.3,730.8 h6.1 v5.8 h-6.1 Z M52.8,734.9 h4.4 v8.2 h-4.4 Z" fill="#f2d23c" stroke="#5a3c12" stroke-width="0.8"/>
<path d="M33.4,737.4 v2.2 h3.2 v-2.2 M40.1,737.4 v2.2 h3.2 v-2.2 M46.7,737.4 v2.2 h3.2 v-2.2 M35.6,731.2 v2.2 h3.1 v-2.2 M41.8,731.2 v2.2 h3.1 v-2.2 M53.4,737.6 h3.2 M53.4,740 h3.2" fill="none" stroke="#5a3c12" stroke-width="0.9"/>
<circle cx="43.8" cy="788.6" r="20.5" fill="#6a6b6e"/>
<rect x="23" y="803" width="43" height="9" fill="#a7a9ac"/>
<rect x="43.6" y="767" width="15.2" height="4.6" rx="2.3" fill="#fff" stroke="#26262e" stroke-width="1"/>
<path d="M46.4,769.3 h9.6" stroke="#c9ccd4" stroke-width="1.2" stroke-dasharray="1.6 1"/>
<path d="M54,774.6 h6.6 l1.2,17 h-9 Z" fill="#e6edf8" stroke="#26262e" stroke-width="0.9"/>
<rect x="54.2" y="778.8" width="6.3" height="2.6" fill="#c23040"/>
<rect x="51.2" y="791.6" width="12.6" height="14" fill="#7a63b2" stroke="#26262e" stroke-width="0.9"/>
<rect x="54" y="795" width="7.2" height="10.6" fill="#2aa5b8" stroke="#26262e" stroke-width="0.7"/>
<path d="M54.4,797.6 h6.4 M54.4,800 h6.4 M54.4,802.4 h6.4" stroke="#1d6f86" stroke-width="0.9"/>
<path d="M25.2,805.6 V791.0 L33.2,787.4 V805.6 Z" fill="#f6b53e" stroke="#26262e" stroke-width="0.9"/>
<circle cx="29.2" cy="795" r="2" fill="#25b0b0" stroke="#26262e" stroke-width="0.7"/>
<path d="M34.1,805.6 V791.0 L42.1,787.4 V805.6 Z" fill="#f6b53e" stroke="#26262e" stroke-width="0.9"/>
<circle cx="38.1" cy="795" r="2" fill="#25b0b0" stroke="#26262e" stroke-width="0.7"/>
<path d="M43.0,805.6 V791.0 L51.0,787.4 V805.6 Z" fill="#f6b53e" stroke="#26262e" stroke-width="0.9"/>
<circle cx="47.0" cy="795" r="2" fill="#25b0b0" stroke="#26262e" stroke-width="0.7"/>
<rect x="23.2" y="805.9" width="42.6" height="3" rx="1.2" fill="#e8e8ee" stroke="#26262e" stroke-width="0.9"/>
<circle cx="43.8" cy="845" r="20.5" fill="#6a6b6e"/>
<circle cx="44.6" cy="827.6" r="3.2" fill="#f4a62a" stroke="#26221e" stroke-width="0.9"/>
<path d="M26.6,848.6 a18,17.8 0 0 1 36,0 Z" fill="#fdd835" stroke="#26221e" stroke-width="0.9"/>
<rect x="24.4" y="848.6" width="39.8" height="2.9" rx="1" fill="#dfa060" stroke="#26221e" stroke-width="0.9"/>
<path d="M34.4,856.6 q6,-1 9,-2.6 q5,-1.6 8,0.2 l-2.4,2.2 l11.4,0 q1.6,1.6 -0.6,3 q-7,4.4 -14,4 l-11.4,-0.6 Z" fill="#f6d892" stroke="#26221e" stroke-width="0.9"/>
<rect x="28.4" y="853.2" width="6.2" height="9.6" fill="#4a4a4e" stroke="#26221e" stroke-width="0.7"/>
<text x="86.4" y="720.0" font-size="12.8" font-weight="700" fill="#3b3b3b" textLength="164.5" lengthAdjust="spacingAndGlyphs">Wholesale and Retail Trade;</text>
<text x="85.6" y="733.0" font-size="12.8" font-weight="700" fill="#3b3b3b" textLength="169.5" lengthAdjust="spacingAndGlyphs">Repair of Motor Vehicles and</text>
<text x="85.6" y="745.8" font-size="12.8" font-weight="700" fill="#3b3b3b" textLength="66.9" lengthAdjust="spacingAndGlyphs">Motorcycle</text>
<text x="86.4" y="793.1" font-size="12.8" font-weight="700" fill="#3b3b3b" textLength="87.1" lengthAdjust="spacingAndGlyphs">Manufacturing</text>
<text x="86.9" y="840.7" font-size="12.8" font-weight="700" fill="#3b3b3b" textLength="122.5" lengthAdjust="spacingAndGlyphs">Accommodation and</text>
<text x="86.4" y="853.6" font-size="12.8" font-weight="700" fill="#3b3b3b" textLength="135.5" lengthAdjust="spacingAndGlyphs">Food Service Activities</text>
<text transform="translate(270.67,731.87) scale(1.17,1)" font-size="18.22" font-weight="700" fill="#c93349" letter-spacing="1.343" stroke="#c93349" stroke-width="1.3" stroke-linejoin="miter" stroke-miterlimit="2.2" paint-order="stroke">+8,800</text>
<text transform="translate(270.67,792.17) scale(1.17,1)" font-size="18.22" font-weight="700" fill="#c93349" letter-spacing="1.223" stroke="#c93349" stroke-width="1.3" stroke-linejoin="miter" stroke-miterlimit="2.2" paint-order="stroke">+7,600</text>
<text transform="translate(270.67,847.17) scale(1.17,1)" font-size="18.22" font-weight="700" fill="#c93349" letter-spacing="1.223" stroke="#c93349" stroke-width="1.3" stroke-linejoin="miter" stroke-miterlimit="2.2" paint-order="stroke">+7,400</text>
<use href="#male" x="416.1" y="705.8" width="8.5" height="21" fill="#d21f30" stroke="#d21f30" stroke-width="14"/>
<use href="#male" x="424.8" y="705.8" width="8.5" height="21" fill="#d21f30" stroke="#d21f30" stroke-width="14"/>
<use href="#male" x="433.5" y="705.8" width="8.5" height="21" fill="#d21f30" stroke="#d21f30" stroke-width="14"/>
<use href="#male" x="442.2" y="705.8" width="8.5" height="21" fill="#d21f30" stroke="#d21f30" stroke-width="14"/>
<use href="#male" x="450.9" y="705.8" width="8.5" height="21" fill="#d21f30" stroke="#d21f30" stroke-width="14"/>
<use href="#male" x="459.6" y="705.8" width="8.5" height="21" fill="#d21f30" stroke="#d21f30" stroke-width="14"/>
<use href="#male" x="468.3" y="705.8" width="8.5" height="21" fill="#d21f30" stroke="#d21f30" stroke-width="14"/>
<use href="#male" x="477.0" y="705.8" width="8.5" height="21" fill="#d21f30" stroke="#d21f30" stroke-width="14"/>
<use href="#male" x="485.7" y="705.8" width="8.5" height="21" fill="#d21f30" stroke="#d21f30" stroke-width="14"/>
<use href="#male" x="494.4" y="705.8" width="8.5" height="21" fill="#d21f30" stroke="#d21f30" stroke-width="14"/>
<use href="#male" x="503.1" y="705.8" width="8.5" height="21" fill="#d21f30" stroke="#d21f30" stroke-width="14"/>
<use href="#male" x="511.8" y="705.8" width="8.5" height="21" fill="#d21f30" stroke="#d21f30" stroke-width="14"/>
<use href="#male" x="520.5" y="705.8" width="8.5" height="21" fill="#d21f30" stroke="#d21f30" stroke-width="14"/>
<use href="#male" x="529.2" y="705.8" width="8.5" height="21" fill="#d21f30" stroke="#d21f30" stroke-width="14"/>
<use href="#male" x="537.9" y="705.8" width="8.5" height="21" fill="#d21f30" stroke="#d21f30" stroke-width="14"/>
<use href="#male" x="546.6" y="705.8" width="8.5" height="21" fill="#d21f30" stroke="#d21f30" stroke-width="14"/>
<use href="#male" x="555.3" y="705.8" width="8.5" height="21" fill="#d21f30" stroke="#d21f30" stroke-width="14"/>
<use href="#male" x="564.0" y="705.8" width="8.5" height="21" fill="#d21f30" stroke="#d21f30" stroke-width="14"/>
<use href="#male" x="572.7" y="705.8" width="8.5" height="21" fill="#d21f30" stroke="#d21f30" stroke-width="14"/>
<use href="#male" x="581.4" y="705.8" width="8.5" height="21" fill="#d21f30" stroke="#d21f30" stroke-width="14"/>
<use href="#male" x="416.1" y="765.8" width="8.5" height="21" fill="#d21f30" stroke="#d21f30" stroke-width="14"/>
<use href="#male" x="424.8" y="765.8" width="8.5" height="21" fill="#d21f30" stroke="#d21f30" stroke-width="14"/>
<use href="#male" x="433.5" y="765.8" width="8.5" height="21" fill="#d21f30" stroke="#d21f30" stroke-width="14"/>
<use href="#male" x="442.2" y="765.8" width="8.5" height="21" fill="#d21f30" stroke="#d21f30" stroke-width="14"/>
<use href="#male" x="450.9" y="765.8" width="8.5" height="21" fill="#d21f30" stroke="#d21f30" stroke-width="14"/>
<use href="#male" x="459.6" y="765.8" width="8.5" height="21" fill="#d21f30" stroke="#d21f30" stroke-width="14"/>
<use href="#male" x="468.3" y="765.8" width="8.5" height="21" fill="#d21f30" stroke="#d21f30" stroke-width="14"/>
<use href="#male" x="477.0" y="765.8" width="8.5" height="21" fill="#d21f30" stroke="#d21f30" stroke-width="14"/>
<use href="#male" x="485.7" y="765.8" width="8.5" height="21" fill="#d21f30" stroke="#d21f30" stroke-width="14"/>
<use href="#male" x="494.4" y="765.8" width="8.5" height="21" fill="#d21f30" stroke="#d21f30" stroke-width="14"/>
<use href="#male" x="503.1" y="765.8" width="8.5" height="21" fill="#d21f30" stroke="#d21f30" stroke-width="14"/>
<use href="#male" x="511.8" y="765.8" width="8.5" height="21" fill="#d21f30" stroke="#d21f30" stroke-width="14"/>
<use href="#male" x="520.5" y="765.8" width="8.5" height="21" fill="#d21f30" stroke="#d21f30" stroke-width="14"/>
<use href="#male" x="529.2" y="765.8" width="8.5" height="21" fill="#d21f30" stroke="#d21f30" stroke-width="14"/>
<use href="#male" x="416.1" y="823.8" width="8.5" height="21" fill="#d21f30" stroke="#d21f30" stroke-width="14"/>
<use href="#male" x="424.8" y="823.8" width="8.5" height="21" fill="#d21f30" stroke="#d21f30" stroke-width="14"/>
<use href="#male" x="433.5" y="823.8" width="8.5" height="21" fill="#d21f30" stroke="#d21f30" stroke-width="14"/>
<use href="#male" x="442.2" y="823.8" width="8.5" height="21" fill="#d21f30" stroke="#d21f30" stroke-width="14"/>
<use href="#male" x="450.9" y="823.8" width="8.5" height="21" fill="#d21f30" stroke="#d21f30" stroke-width="14"/>
<use href="#male" x="459.6" y="823.8" width="8.5" height="21" fill="#d21f30" stroke="#d21f30" stroke-width="14"/>
<use href="#male" x="468.3" y="823.8" width="8.5" height="21" fill="#d21f30" stroke="#d21f30" stroke-width="14"/>
<use href="#male" x="477.0" y="823.8" width="8.5" height="21" fill="#d21f30" stroke="#d21f30" stroke-width="14"/>
<use href="#male" x="485.7" y="823.8" width="8.5" height="21" fill="#d21f30" stroke="#d21f30" stroke-width="14"/>
<use href="#male" x="494.4" y="823.8" width="8.5" height="21" fill="#d21f30" stroke="#d21f30" stroke-width="14"/>
<use href="#male" x="503.1" y="823.8" width="8.5" height="21" fill="#d21f30" stroke="#d21f30" stroke-width="14"/>
<use href="#male" x="511.8" y="823.8" width="8.5" height="21" fill="#d21f30" stroke="#d21f30" stroke-width="14"/>
<text x="403.6" y="741.6" font-size="12.8" font-weight="700" fill="#801226" textLength="59.8" lengthAdjust="spacingAndGlyphs">Managers</text>
<text x="404.1" y="801.5" font-size="12.8" font-weight="700" fill="#801226" textLength="163.9" lengthAdjust="spacingAndGlyphs">Services and Sales Workers</text>
<text x="404.0" y="857.7" font-size="12.8" font-weight="700" fill="#801226" textLength="197.5" lengthAdjust="spacingAndGlyphs">Craft and Related Trades Workers</text>
<text x="632.6" y="724.3" font-size="18.08" font-weight="700" fill="#fff" textLength="77.1" lengthAdjust="spacingAndGlyphs" stroke="#fff" stroke-width="1.1" stroke-linejoin="miter" stroke-miterlimit="2.2" paint-order="stroke">+10,300</text>
<text x="645.7" y="783.3" font-size="18.08" font-weight="700" fill="#fff" textLength="63.9" lengthAdjust="spacingAndGlyphs" stroke="#fff" stroke-width="1.1" stroke-linejoin="miter" stroke-miterlimit="2.2" paint-order="stroke">+7,300</text>
<text x="640.6" y="841.8" font-size="18.08" font-weight="700" fill="#fff" textLength="69.1" lengthAdjust="spacingAndGlyphs" stroke="#fff" stroke-width="1.1" stroke-linejoin="miter" stroke-miterlimit="2.2" paint-order="stroke">+6,400</text>
<text x="20.7" y="898.6" font-size="11.6" font-weight="400" fill="#c8203a" textLength="501.8" lengthAdjust="spacingAndGlyphs">The Labour Force Survey measures the number of persons employed, unemployed and outside</text>
<text x="20.8" y="910.6" font-size="11.6" font-weight="400" fill="#c8203a" textLength="321.3" lengthAdjust="spacingAndGlyphs">the labour force and provides other labour market indicators.</text>
<text x="21.0" y="933.6" font-size="11.6" font-weight="400" fill="#c8203a" textLength="481.6" lengthAdjust="spacingAndGlyphs">Additional information may be obtained from the Statistical Institute of Jamaica’s website or</text>
<text x="20.8" y="945.4" font-size="11.6" font-weight="400" fill="#c8203a" textLength="312.2" lengthAdjust="spacingAndGlyphs">from the Institute’s library at 7 Cecelio Avenue, Kingston 10.</text>
<circle cx="576.9" cy="897.4" r="9.2" fill="#be1e37"/>
<g fill="none" stroke="#fff" stroke-width="0.9"><circle cx="576.9" cy="897.4" r="6.2"/><ellipse cx="576.9" cy="897.4" rx="2.8" ry="6.2"/><path d="M570.7,897.4 h12.4 M571.6,894.2 h10.6 M571.6,900.6 h10.6"/></g>
<text x="591.0" y="900.6" font-size="13.4" font-weight="700" fill="#be1e37" textLength="124.8" lengthAdjust="spacingAndGlyphs">www.statinja.gov.jm</text>
<rect x="569" y="912.9" width="16.8" height="11.5" rx="0.8" fill="#be1e37"/>
<path d="M569.6,913.5 l7.8,5.6 l7.8,-5.6 M569.6,923.8 l5.8,-5.2 M585.2,923.8 l-5.8,-5.2" stroke="#fff" stroke-width="1.1" fill="none"/>
<text x="590.1" y="923.6" font-size="13.4" font-weight="700" fill="#be1e37" textLength="126.7" lengthAdjust="spacingAndGlyphs">info@statinja.gov.jm</text>
<circle cx="576.3" cy="940.7" r="8.4" fill="#be1e37"/>
<path d="M577.4,946.4 v-5 h1.8 l0.3,-2 h-2.1 v-1.2 q0,-1 1.1,-1 h1.1 v-1.8 q-0.8,-0.1 -1.7,-0.1 q-2.6,0 -2.6,2.6 v1.5 h-1.8 v2 h1.8 v5 Z" fill="#fff"/>
<rect x="599.4" y="932.5" width="16.6" height="16.4" rx="3" fill="#be1e37"/>
<g fill="none" stroke="#fff" stroke-width="1.1"><rect x="602.6" y="935.6" width="10.2" height="10.2" rx="2.6"/><circle cx="607.7" cy="940.7" r="2.5"/></g><circle cx="611" cy="937.4" r="0.7" fill="#fff"/>
<circle cx="635" cy="940.7" r="8.4" fill="#be1e37"/>
<path d="M630.6,938.8 h2 v6 h-2 Z M633.9,938.8 h1.9 v0.9 q0.7,-1.1 2.1,-1.1 q2.2,0 2.2,2.6 v3.6 h-2 v-3.3 q0,-1.2 -1,-1.2 q-1.2,0 -1.2,1.3 v3.2 h-2 Z" fill="#fff"/><circle cx="631.6" cy="936.8" r="1.15" fill="#fff"/>
<text x="654.9" y="943.5" font-size="13.4" font-weight="700" fill="#be1e37" textLength="58.1" lengthAdjust="spacingAndGlyphs">@statinja</text>
</svg>
</body></html>
